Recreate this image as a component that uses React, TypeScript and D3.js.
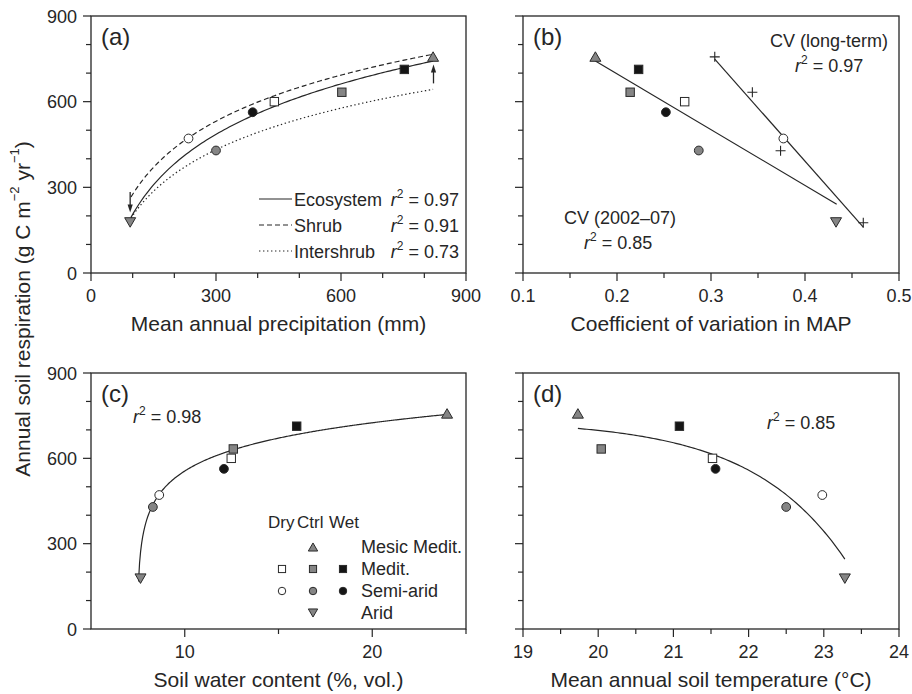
import React from "react";
import * as d3 from "d3";

const FONT = "'Liberation Sans', Arial, Helvetica, sans-serif";
const INK = "#262626";

// one entry per plotted site/treatment
const pointSite = ["Arid", "Semi-arid", "Semi-arid", "Semi-arid", "Medit.", "Medit.", "Medit.", "Mesic Medit."];
const pointTrt = ["Ctrl", "Dry", "Ctrl", "Wet", "Dry", "Ctrl", "Wet", "Ctrl"];
const respiration = [177, 471, 429, 563, 600, 633, 713, 758];
const precip = [94, 234, 300, 388, 440, 602, 752, 821];
const cvShort = [0.433, 0.377, 0.287, 0.252, 0.272, 0.214, 0.223, 0.177];
const soilWater = [7.64, 8.64, 8.3, 12.09, 12.48, 12.59, 15.97, 23.99];
const soilTemp = [23.28, 22.98, 22.5, 21.56, 21.52, 20.04, 21.08, 19.73];

// long-term CV (crosses)
const cvLong = [0.304, 0.344, 0.374, 0.462];
const respLong = [757, 633, 428, 176];

// (a) log fits  y = a ln(x) + b
const fitNames = ["Ecosystem", "Shrub", "Intershrub"];
const fitR2 = ["0.97", "0.91", "0.73"];
const fitA = [255, 233, 210];
const fitB = [-969, -797.5, -766];
const fitDash = ["", "5,3", "1.4,2.6"];
const precipFitRange = [96, 821];

// (a) arrows
const arrowX = [94, 822];
const arrowFrom = [284, 664];
const arrowTo = [212, 730];

// (b) linear fits
const cvFitSlope = [-1956, -3722];
const cvFitIntercept = [1089, 1880.5];
const cvFitRange = [[0.177, 0.4337], [0.304, 0.462]];

// (c) y = a + b ln(x - x0)
const swcFit = { a: 457, b: 106, x0: 7.47, from: 7.535, to: 24 };
// (d) y = a - b exp(k (x - x0))
const tempFit = { a: 733.5, b: 28.5, k: 0.8, x0: 19.73, from: 19.73, to: 23.28 };

const yTicks = [0, 300, 600, 900];
const legendSites = ["Mesic Medit.", "Medit.", "Semi-arid", "Arid"];
const legendTrts = ["Dry", "Ctrl", "Wet"];

const fillFor = (t) => (t === "Dry" ? "#ffffff" : t === "Ctrl" ? "#858585" : "#151515");

const Mark = ({ site, trt, cx, cy, s = 1 }) => {
  const fill = fillFor(trt);
  const st = { fill, stroke: "#2a2a2a", strokeWidth: 1 };
  if (site === "Semi-arid") return <circle cx={cx} cy={cy} r={4.4 * s} {...st} />;
  if (site === "Medit.") {
    const a = 8.4 * s;
    return <rect x={cx - a / 2} y={cy - a / 2} width={a} height={a} {...st} />;
  }
  const w = 11 * s, h = 9.5 * s;
  const dir = site === "Arid" ? -1 : 1;
  const pts = [
    [cx - w / 2, cy + (dir * h) / 2],
    [cx + w / 2, cy + (dir * h) / 2],
    [cx, cy - (dir * h) / 2],
  ];
  return <polygon points={pts.map((p) => p.join(",")).join(" ")} {...st} />;
};

const R2 = ({ x, y, v, anchor = "start" }) => (
  <text x={x} y={y} fontSize={18} textAnchor={anchor}>
    <tspan fontStyle="italic">r</tspan>
    <tspan fontSize={12} dy={-8}>2</tspan>
    <tspan dy={8}>{` = ${v}`}</tspan>
  </text>
);

const Panel = ({ x, y, xMajor, xMinor, xFmt, yLabels, xTitle, tag, children }) => {
  const [x0, x1] = x.range();
  const [y1, y0] = y.range();
  return (
    <g>
      <rect x={x0} y={y0} width={x1 - x0} height={y1 - y0} fill="none" stroke={INK} strokeWidth={1.3} />
      {d3.range(0, 901, 100).map((v) => {
        const major = yTicks.includes(v);
        return <line key={"yt" + v} x1={x0 - (major ? 8 : 5)} x2={x0} y1={y(v)} y2={y(v)} stroke={INK} strokeWidth={1.2} />;
      })}
      {yLabels &&
        yTicks.map((v) => (
          <text key={"yl" + v} x={x0 - 14} y={y(v) + 6.5} textAnchor="end" fontSize={18}>
            {v}
          </text>
        ))}
      {xMajor.map((v) => (
        <line key={"xt" + v} x1={x(v)} x2={x(v)} y1={y1} y2={y1 + 8} stroke={INK} strokeWidth={1.2} />
      ))}
      {xMinor.map((v) => (
        <line key={"xm" + v} x1={x(v)} x2={x(v)} y1={y1} y2={y1 + 5} stroke={INK} strokeWidth={1.2} />
      ))}
      {xMajor.map((v) => (
        <text key={"xl" + v} x={x(v)} y={y1 + 29} textAnchor="middle" fontSize={18}>
          {xFmt(v)}
        </text>
      ))}
      <text x={(x0 + x1) / 2} y={y1 + 58} textAnchor="middle" fontSize={21}>
        {xTitle}
      </text>
      <text x={x0 + 10} y={y0 + 29} fontSize={24}>
        {tag}
      </text>
      {children}
    </g>
  );
};

export default function App() {
  const yTop = d3.scaleLinear().domain([0, 900]).range([273, 16]);
  const yBot = d3.scaleLinear().domain([0, 900]).range([629, 373]);
  const xA = d3.scaleLinear().domain([0, 900]).range([91, 466]);
  const xB = d3.scaleLinear().domain([0.1, 0.5]).range([523, 899]);
  const xC = d3.scaleLinear().domain([5, 25]).range([91, 466]);
  const xD = d3.scaleLinear().domain([19, 24]).range([523, 899]);

  const sample = (from, to, n = 120) => d3.range(n + 1).map((i) => from + ((to - from) * i) / n);

  const lineA = d3.line().x((d) => xA(d[0])).y((d) => yTop(d[1]));
  const lineB = d3.line().x((d) => xB(d[0])).y((d) => yTop(d[1]));
  const lineC = d3.line().x((d) => xC(d[0])).y((d) => yBot(d[1]));
  const lineD = d3.line().x((d) => xD(d[0])).y((d) => yBot(d[1]));

  const idx = d3.range(respiration.length);

  return (
    <svg
      width={912}
      height={694}
      style={{ position: "absolute", left: 0, top: 0, background: "#fff" }}
      fontFamily={FONT}
      fill={INK}
    >
      <text
        transform="translate(22,309) rotate(-90)"
        textAnchor="middle"
        dominantBaseline="central"
        fontSize={21}
      >
        Annual soil respiration (g C m
        <tspan fontSize={13} dy={-8}>−2</tspan>
        <tspan dy={8}> yr</tspan>
        <tspan fontSize={13} dy={-8}>−1</tspan>
        <tspan dy={8}>)</tspan>
      </text>

      {/* (a) */}
      <Panel
        x={xA}
        y={yTop}
        xMajor={[0, 300, 600, 900]}
        xMinor={[100, 200, 400, 500, 700, 800]}
        xFmt={(v) => String(v)}
        yLabels
        xTitle="Mean annual precipitation (mm)"
        tag="(a)"
      >
        {fitNames.map((n, i) => (
          <path
            key={n}
            d={lineA(sample(precipFitRange[0], precipFitRange[1]).map((v) => [v, fitA[i] * Math.log(v) + fitB[i]]))}
            fill="none"
            stroke={INK}
            strokeWidth={1.2}
            strokeDasharray={fitDash[i] || undefined}
          />
        ))}
        {arrowX.map((ax, i) => {
          const dir = arrowTo[i] > arrowFrom[i] ? 1 : -1;
          const tipY = yTop(arrowTo[i]);
          const px = xA(ax);
          return (
            <g key={"ar" + i}>
              <line x1={px} x2={px} y1={yTop(arrowFrom[i])} y2={tipY + dir * 6} stroke={INK} strokeWidth={1.3} />
              <polygon
                points={`${px - 2.6},${tipY + dir * 8} ${px + 2.6},${tipY + dir * 8} ${px},${tipY}`}
                fill={INK}
              />
            </g>
          );
        })}
        {idx.map((i) => (
          <Mark key={i} site={pointSite[i]} trt={pointTrt[i]} cx={xA(precip[i])} cy={yTop(respiration[i])} />
        ))}
        {fitNames.map((n, i) => (
          <g key={"lg" + n}>
            <line
              x1={259}
              x2={292}
              y1={199 + i * 26}
              y2={199 + i * 26}
              stroke={INK}
              strokeWidth={1.2}
              strokeDasharray={fitDash[i] || undefined}
            />
            <text x={294} y={205.5 + i * 26} fontSize={18}>
              {n}
            </text>
            <R2 x={459} y={205.5 + i * 26} v={fitR2[i]} anchor="end" />
          </g>
        ))}
      </Panel>

      {/* (b) */}
      <Panel
        x={xB}
        y={yTop}
        xMajor={[0.1, 0.2, 0.3, 0.4, 0.5]}
        xMinor={[0.15, 0.25, 0.35, 0.45]}
        xFmt={(v) => v.toFixed(1)}
        xTitle="Coefficient of variation in MAP"
        tag="(b)"
      >
        {cvFitSlope.map((s, i) => (
          <path
            key={"cvf" + i}
            d={lineB(cvFitRange[i].map((v) => [v, cvFitIntercept[i] + s * v]))}
            stroke={INK}
            strokeWidth={1.2}
            fill="none"
          />
        ))}
        {cvLong.map((c, i) => {
          const px = xB(c), py = yTop(respLong[i]);
          return (
            <path key={"cr" + i} d={`M${px - 5},${py}H${px + 5}M${px},${py - 5}V${py + 5}`} stroke={INK} strokeWidth={1.1} />
          );
        })}
        {idx.map((i) => (
          <Mark key={i} site={pointSite[i]} trt={pointTrt[i]} cx={xB(cvShort[i])} cy={yTop(respiration[i])} />
        ))}
        <text x={770} y={46.5} fontSize={18}>CV (long-term)</text>
        <R2 x={795} y={71.5} v="0.97" />
        <text x={564} y={224} fontSize={18}>CV (2002–07)</text>
        <R2 x={584} y={249} v="0.85" />
      </Panel>

      {/* (c) */}
      <Panel
        x={xC}
        y={yBot}
        xMajor={[10, 20]}
        xMinor={[15, 25]}
        xFmt={(v) => String(v)}
        yLabels
        xTitle="Soil water content (%, vol.)"
        tag="(c)"
      >
        <path
          d={lineC(
            sample(swcFit.from, swcFit.to, 300).map((v) => [v, swcFit.a + swcFit.b * Math.log(v - swcFit.x0)])
          )}
          fill="none"
          stroke={INK}
          strokeWidth={1.2}
        />
        {idx.map((i) => (
          <Mark key={i} site={pointSite[i]} trt={pointTrt[i]} cx={xC(soilWater[i])} cy={yBot(respiration[i])} />
        ))}
        <R2 x={133} y={423} v="0.98" />
        <text x={268} y={528} fontSize={17}>Dry</text>
        <text x={297} y={528} fontSize={17}>Ctrl</text>
        <text x={329} y={528} fontSize={17}>Wet</text>
        {legendSites.map((site, r) => {
          const cy = 547 + r * 22;
          const trts = site === "Medit." || site === "Semi-arid" ? legendTrts : ["Ctrl"];
          return (
            <g key={"ls" + site}>
              {trts.map((t) => (
                <Mark key={t} site={site} trt={t} cx={[282, 313, 343][legendTrts.indexOf(t)]} cy={cy} s={0.85} />
              ))}
              <text x={361} y={cy + 6} fontSize={18}>
                {site}
              </text>
            </g>
          );
        })}
      </Panel>

      {/* (d) */}
      <Panel
        x={xD}
        y={yBot}
        xMajor={[19, 20, 21, 22, 23, 24]}
        xMinor={[19.5, 20.5, 21.5, 22.5, 23.5]}
        xFmt={(v) => String(v)}
        xTitle="Mean annual soil temperature (°C)"
        tag="(d)"
      >
        <path
          d={lineD(
            sample(tempFit.from, tempFit.to).map((v) => [v, tempFit.a - tempFit.b * Math.exp(tempFit.k * (v - tempFit.x0))])
          )}
          fill="none"
          stroke={INK}
          strokeWidth={1.2}
        />
        {idx.map((i) => (
          <Mark key={i} site={pointSite[i]} trt={pointTrt[i]} cx={xD(soilTemp[i])} cy={yBot(respiration[i])} />
        ))}
        <R2 x={767} y={429} v="0.85" />
      </Panel>
    </svg>
  );
}
